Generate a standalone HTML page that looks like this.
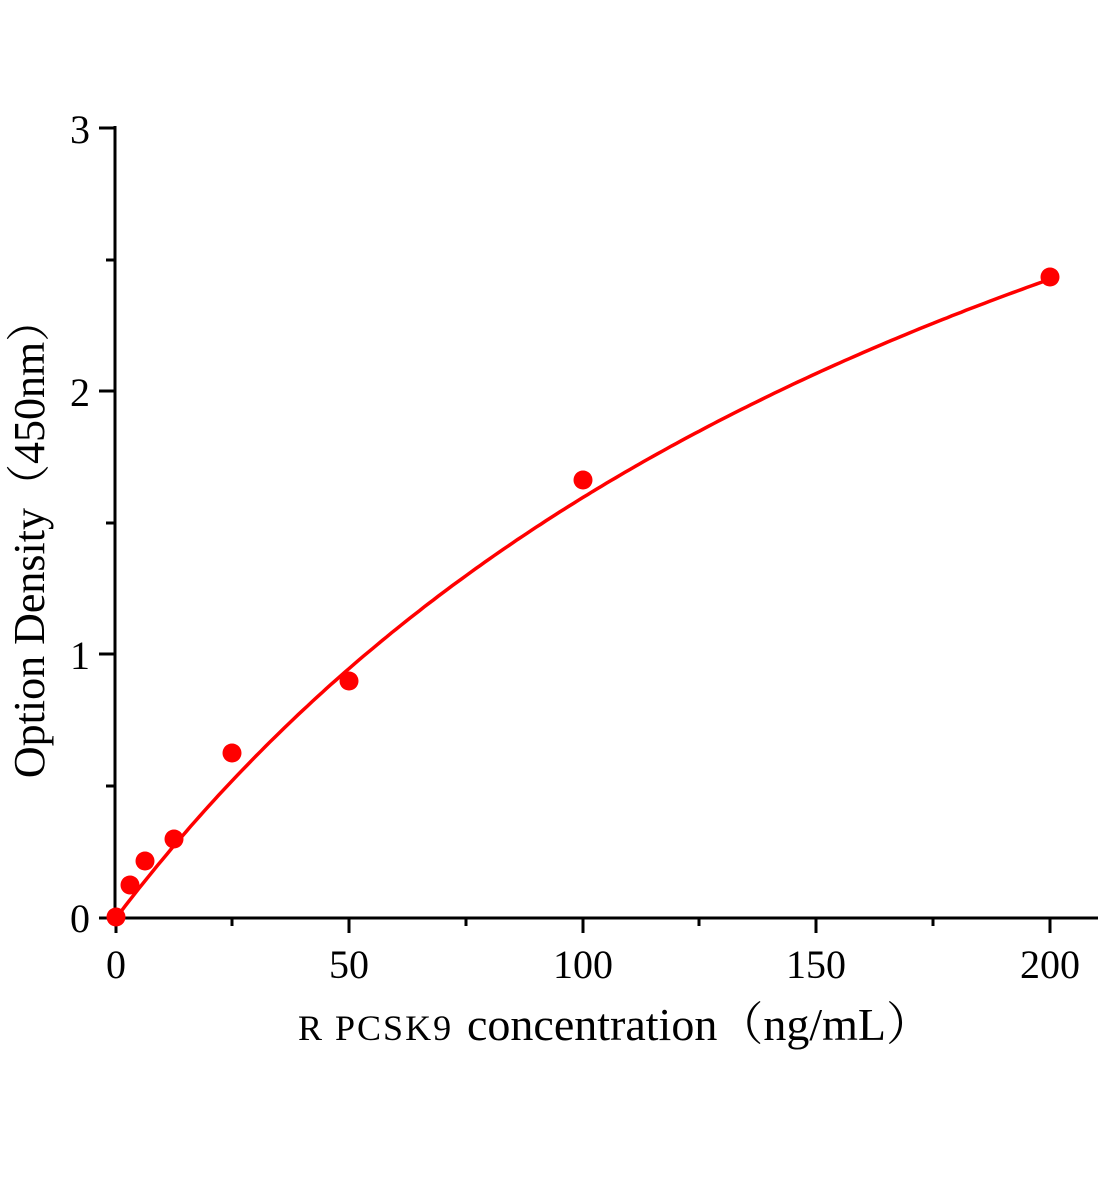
<!DOCTYPE html>
<html><head><meta charset="utf-8"><style>
html,body{margin:0;padding:0;background:#fff;}
svg{display:block;font-family:"Liberation Serif","Noto Serif CJK SC",serif;}
</style></head><body>
<svg id="s" width="1104" height="1200" viewBox="0 0 1104 1200" xmlns="http://www.w3.org/2000/svg">
<g stroke="#000" stroke-width="3" fill="none">
<line x1="115" y1="126" x2="115" y2="919"/>
<line x1="113" y1="918" x2="1098" y2="918"/>
<line x1="99" y1="128" x2="115" y2="128"/>
<line x1="99" y1="391" x2="115" y2="391"/>
<line x1="99" y1="654" x2="115" y2="654"/>
<line x1="99" y1="918" x2="115" y2="918"/>
<line x1="106" y1="260" x2="115" y2="260"/>
<line x1="106" y1="523" x2="115" y2="523"/>
<line x1="106" y1="786" x2="115" y2="786"/>
<line x1="116" y1="918" x2="116" y2="933"/>
<line x1="349" y1="918" x2="349" y2="933"/>
<line x1="583" y1="918" x2="583" y2="933"/>
<line x1="816" y1="918" x2="816" y2="933"/>
<line x1="1050" y1="918" x2="1050" y2="933"/>
<line x1="232" y1="918" x2="232" y2="926"/>
<line x1="466" y1="918" x2="466" y2="926"/>
<line x1="699" y1="918" x2="699" y2="926"/>
<line x1="933" y1="918" x2="933" y2="926"/>
</g>
<g font-size="40" fill="#000">
<text x="90" y="932" text-anchor="end">0</text>
<text x="90" y="669" text-anchor="end">1</text>
<text x="90" y="406" text-anchor="end">2</text>
<text x="90" y="143" text-anchor="end">3</text>
<text x="116" y="978" text-anchor="middle">0</text>
<text x="349" y="978" text-anchor="middle">50</text>
<text x="583" y="978" text-anchor="middle">100</text>
<text x="816" y="978" text-anchor="middle">150</text>
<text x="1050" y="978" text-anchor="middle">200</text>
<text x="298" y="1040" font-size="36" letter-spacing="2">R PCSK9</text>
<text x="467" y="1040" font-size="46">concentration（ng/mL）</text>
<text transform="translate(44,538) rotate(-90)" text-anchor="middle" font-size="44">Option Density（450nm）</text>
</g>
<path id="c" fill="none" stroke="#f00" stroke-width="3.5"/>
<g fill="#f00">
<circle cx="116" cy="917" r="9.5"/>
<circle cx="130" cy="885" r="9.5"/>
<circle cx="145" cy="861" r="9.5"/>
<circle cx="174" cy="839" r="9.5"/>
<circle cx="232" cy="753" r="9.5"/>
<circle cx="349" cy="681" r="9.5"/>
<circle cx="583" cy="480" r="9.5"/>
<circle cx="1050" cy="277" r="9.5"/>
</g>
</svg>
<script>
var d="";for(var i=0;i<=200;i++){var x=i,y=5.05*x/(215.8+x);var px=116+x*4.67,py=918-y*263;d+=(i?"L":"M")+px.toFixed(1)+" "+py.toFixed(1);}
document.getElementById("c").setAttribute("d",d);
</script>
</body></html>
